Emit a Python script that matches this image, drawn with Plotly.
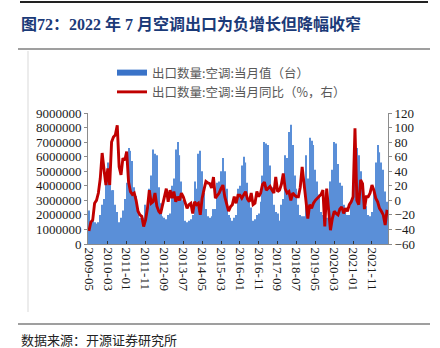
import pandas as pd
import plotly.graph_objects as go

# ---- data ----
months = pd.date_range("2009-05-01", periods=159, freq="MS").strftime("%Y-%m").tolist()

# 出口数量:空调:当月值（百万台）
qty_2009 = [2.3, 1.5, 1.6, 1.5, 1.4, 1.5, 2.0, 2.7]
qty_2010 = [3.1, 4.3, 5.6, 4.2, 3.7, 3.7, 2.7, 2.2, 1.5, 1.8, 2.3, 3.1]
qty_2011 = [4.2, 6.6, 6.4, 5.7, 3.9, 3.3, 2.4, 1.8, 1.6, 1.8, 2.7, 2.2]
qty_2012 = [3.8, 4.7, 6.5, 6.2, 6.1, 3.9, 2.8, 1.9, 1.8, 1.7, 2.0, 2.1]
qty_2013 = [4.0, 4.5, 6.5, 7.0, 6.1, 4.3, 3.0, 1.6, 1.5, 1.6, 1.7, 2.0]
qty_2014 = [4.3, 3.8, 6.2, 6.4, 5.0, 3.5, 2.4, 1.9, 1.8, 1.9, 2.4, 2.4]
qty_2015 = [4.2, 4.3, 5.0, 5.9, 5.0, 3.8, 2.0, 1.8, 1.6, 1.8, 2.0, 3.8]
qty_2016 = [4.0, 5.4, 6.0, 5.6, 4.2, 2.9, 2.5, 1.6, 1.7, 2.0, 2.1, 2.9]
qty_2017 = [4.7, 7.0, 6.9, 6.8, 5.4, 3.9, 2.7, 2.2, 2.1, 1.6, 2.7, 3.1]
qty_2018 = [6.1, 5.9, 7.7, 8.2, 6.8, 4.7, 3.8, 2.7, 2.0, 1.9, 1.9, 6.1]
qty_2019 = [4.5, 7.3, 7.1, 6.8, 5.1, 4.3, 3.4, 2.2, 2.0, 1.8, 1.8, 2.0]
qty_2020 = [4.3, 5.1, 7.0, 6.9, 5.5, 4.2, 4.0, 2.7, 2.2, 2.0, 2.0, 2.9]
qty_2021 = [3.5, 6.5, 6.6, 6.1, 5.0, 3.9, 2.9, 2.6, 2.0, 1.9, 2.2, 3.8]
qty_2022 = [5.6, 6.8, 6.3, 5.6, 5.1, 3.6, 2.9]

# 出口数量:空调:当月同比（%）
yoy_2009 = [-42, -30, -27, -4, 0, 10, 30, 65]
yoy_2010 = [42, 21, 44, 21, 80, 87, 90, 103, 46, 35, 58, 55]
yoy_2011 = [67, 25, 12, 8, 10, 0, -15, -20, -22, -36, -27, -11]
yoy_2012 = [14, -4, -2, 10, -8, -15, -18, -8, 3, 16, -2, 14]
yoy_2013 = [3, 12, -2, 5, 0, 10, 5, -5, -11, -6, -4, -18]
yoy_2014 = [-2, -6, -4, -20, 3, 15, 26, 24, 23, 17, 32, 3]
yoy_2015 = [7, 10, 16, 21, 5, -6, -15, -9, -6, 5, -4, 7]
yoy_2016 = [7, 3, 8, 12, 2, -2, 10, -6, -4, 12, 5, 10]
yoy_2017 = [22, 25, 14, 17, 19, 14, 10, 32, 12, 14, 22, 37]
yoy_2018 = [16, 10, 12, 0, 10, 7, 5, 5, 18, 46, 26, 0]
yoy_2019 = [-25, -6, -11, -4, 0, 3, 5, 8, 14, -36, 16, -10]
yoy_2020 = [-41, -25, -15, -18, -20, -12, -9, -18, -11, -15, -6, -2]
yoy_2021 = [5, 99, 0, -6, 28, 23, -12, 5, 5, 10, 21, 14]
yoy_2022 = [3, -2, -11, -15, -20, -34, -13]

qty_million = (qty_2009 + qty_2010 + qty_2011 + qty_2012 + qty_2013 + qty_2014 + qty_2015
               + qty_2016 + qty_2017 + qty_2018 + qty_2019 + qty_2020 + qty_2021 + qty_2022)
qty = [round(v * 1_000_000) for v in qty_million]
yoy = (yoy_2009 + yoy_2010 + yoy_2011 + yoy_2012 + yoy_2013 + yoy_2014 + yoy_2015
       + yoy_2016 + yoy_2017 + yoy_2018 + yoy_2019 + yoy_2020 + yoy_2021 + yoy_2022)

tick_labels = months[::10]
left_ticks = list(range(0, 9_000_001, 1_000_000))
right_ticks = list(range(-60, 121, 20))

bar_name = "出口数量:空调:当月值（台）"
line_name = "出口数量:空调:当月同比（%，右）"

BLUE = "#5A8FD8"
RED = "#C00000"

W, H = 440, 348
L, R, T, B = 88, 52, 113, 104
PW, PH = W - L - R, H - T - B


def px_x(px):
    return (px - L) / PW


def px_y(py):
    return (H - B - py) / PH


fig = go.Figure()
fig.add_trace(go.Bar(x=months, y=qty, name=bar_name, marker=dict(color=BLUE, line=dict(width=0)),
                     showlegend=False, yaxis="y"))
# legend swatch for the bars (wide rectangle like the original)
fig.add_trace(go.Scatter(x=[None], y=[None], mode="lines", name=bar_name,
                         line=dict(color="#3A73C8", width=6), legendgroup="a", yaxis="y"))
fig.add_trace(go.Scatter(x=months, y=yoy, mode="lines", name=line_name,
                         line=dict(color=RED, width=2.9), legendgroup="b", yaxis="y2"))

tick_font = dict(family="Liberation Serif, Times New Roman, serif", size=13, color="#1a1a1a")

fig.update_layout(
    width=W, height=H,
    margin=dict(l=L, r=R, t=T, b=B),
    paper_bgcolor="white", plot_bgcolor="white",
    bargap=0.4,
    showlegend=True,
    legend=dict(x=px_x(112), y=px_y(58), xanchor="left", yanchor="top",
                font=dict(family="Noto Sans CJK SC", size=12.5, color="#595959"),
                bgcolor="rgba(0,0,0,0)", tracegroupgap=4, traceorder="normal",
                itemwidth=30),
    xaxis=dict(type="category", tickmode="array", tickvals=tick_labels, ticktext=tick_labels,
               tickangle=90, tickfont=tick_font, showgrid=False, showline=True,
               linecolor="#8c8c8c", linewidth=1, ticks="inside", ticklen=3,
               tickcolor="#333333", range=[-0.5, len(months) - 0.5]),
    yaxis=dict(range=[0, 9_000_000], tickvals=left_ticks, tickformat="d", tickfont=tick_font,
               showgrid=False, showline=True, linecolor="#8c8c8c", linewidth=1,
               ticks="outside", ticklen=3, tickcolor="#8c8c8c", zeroline=False),
    yaxis2=dict(range=[-60, 120], tickvals=right_ticks, tickfont=tick_font, overlaying="y",
                side="right", showgrid=False, showline=True, linecolor="#8c8c8c", linewidth=1,
                ticks="outside", ticklen=3, tickcolor="#8c8c8c", zeroline=False),
    font=dict(family="Noto Sans CJK SC"),
)

fig.add_annotation(text="<b>图72：2022 年 7 月空调出口为负增长但降幅收窄</b>",
                   xref="paper", yref="paper", x=px_x(19), y=px_y(24),
                   xanchor="left", yanchor="middle", showarrow=False,
                   font=dict(family="Liberation Serif, Noto Sans CJK SC", size=16, color="#1B3A78"))
fig.add_annotation(text="数据来源：开源证券研究所",
                   xref="paper", yref="paper", x=px_x(19), y=px_y(339),
                   xanchor="left", yanchor="middle", showarrow=False,
                   font=dict(family="Noto Sans CJK SC", size=13, color="#222222"))

shapes = [
    dict(type="line", xref="paper", yref="paper", x0=px_x(20), x1=px_x(428), y0=px_y(2), y1=px_y(2),
         line=dict(color="#222222", width=2)),
    dict(type="line", xref="paper", yref="paper", x0=px_x(18), x1=px_x(430), y0=px_y(49), y1=px_y(49),
         line=dict(color="#7f7f7f", width=1.5)),
    dict(type="line", xref="paper", yref="paper", x0=px_x(18), x1=px_x(430), y0=px_y(324), y1=px_y(324),
         line=dict(color="#7f7f7f", width=1.5)),
    dict(type="line", xref="paper", yref="paper", x0=px_x(28), x1=px_x(28), y0=px_y(51), y1=px_y(312),
         line=dict(color="#d9d9d9", width=1)),
]
fig.update_layout(shapes=shapes)

fig.write_html("out.html")
